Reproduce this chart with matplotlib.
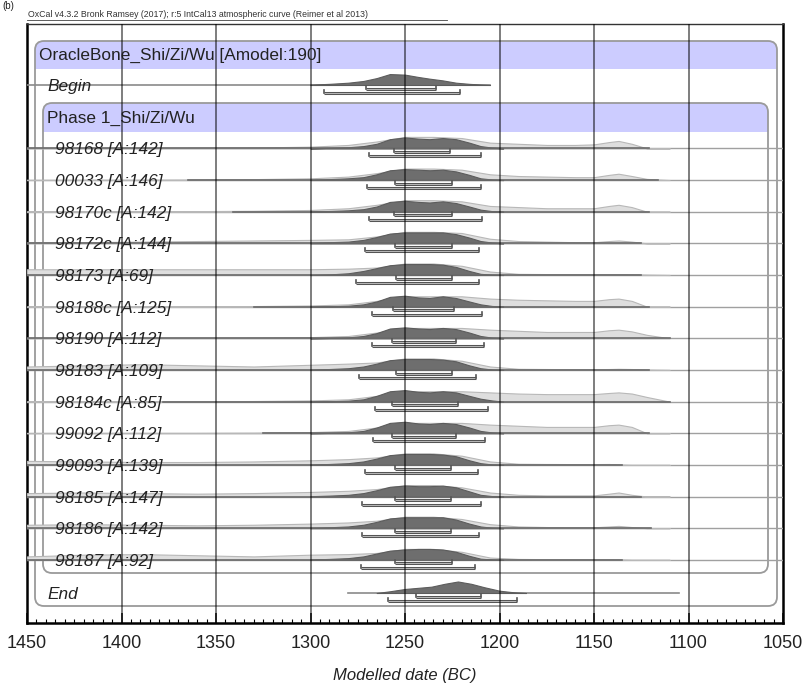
import matplotlib
matplotlib.use('Agg')
import matplotlib.pyplot as plt
from matplotlib.patches import FancyBboxPatch, Rectangle
from matplotlib.transforms import Affine2D
from matplotlib.ticker import MultipleLocator
from matplotlib.lines import Line2D

plt.rcParams['font.family'] = ['Liberation Sans', 'DejaVu Sans']

# ---- data (years BC, heights in px) ----
labels = ['98168 [A:142]', '00033 [A:146]', '98170c [A:142]', '98172c [A:144]',
          '98173 [A:69]', '98188c [A:125]', '98190 [A:112]', '98183 [A:109]',
          '98184c [A:85]', '99092 [A:112]', '99093 [A:139]', '98185 [A:147]',
          '98186 [A:142]', '98187 [A:92]']

range68 = [(1256, 1226), (1255.5, 1225), (1256, 1225), (1255.5, 1225),
           (1255, 1225), (1256.6, 1224), (1257, 1223), (1255, 1225),
           (1257, 1222), (1257, 1223), (1255.5, 1225.5), (1255.5, 1225.5),
           (1255.5, 1225.5), (1255.5, 1225)]
range95 = [(1269, 1210), (1270, 1210), (1269, 1209.5), (1271, 1211),
           (1276, 1211), (1267.4, 1209), (1267.4, 1208), (1274.3, 1212.4),
           (1266, 1206), (1267, 1207.5), (1271, 1211.5), (1272.5, 1210),
           (1272.5, 1211), (1273.5, 1213)]

# posterior (dark) heights on a common year grid
post_years = [1300, 1290, 1280, 1272, 1265, 1258, 1250, 1243, 1237, 1230, 1223, 1216, 1210, 1204, 1198]
post_h = [
    [0, 0.5, 1, 2, 4, 8, 9.5, 8.5, 8, 9, 8, 5, 2, 0.7, 0],
    [0.3, 0.8, 1.5, 2.5, 5, 8.5, 9.5, 9, 8.5, 9, 7.5, 4.5, 1.5, 0.5, 0],
    [0.3, 0.6, 1.2, 2.2, 4.5, 8.5, 9.5, 8.5, 8, 9, 7.5, 4.5, 1.8, 0.5, 0],
    [0.5, 1, 1.5, 3, 5.5, 8.5, 9.5, 9.5, 9.5, 9.5, 8, 5, 2, 0.7, 0],
    [0, 0.5, 1.5, 3.5, 6, 8.5, 9.5, 9.5, 9.5, 9, 7, 3.5, 1, 0.3, 0],
    [0, 0.3, 0.8, 2, 4.5, 8.5, 9.5, 8, 7.5, 9, 7.5, 4.5, 2, 0.6, 0],
    [0, 0.3, 0.8, 2, 4.5, 8.5, 9.5, 8.5, 8, 9, 8, 5, 2, 0.6, 0],
    [0.3, 0.8, 1.5, 3, 5.5, 8.5, 9.5, 9.5, 9.5, 9, 7.5, 4, 1.5, 0.4, 0],
    [0, 0.3, 0.8, 2, 5, 9, 10, 8.5, 8, 9, 8, 5, 2.5, 1, 0],
    [0, 0.3, 0.8, 2, 5, 9, 10, 8.5, 8, 9, 8, 5, 2, 0.7, 0],
    [0.3, 0.8, 1.5, 3, 5.5, 8.5, 9.5, 9.5, 9.5, 9, 7.5, 4, 1.5, 0.4, 0],
    [0.3, 0.8, 1.5, 3, 5.5, 8.5, 9.5, 9, 9, 9.5, 8, 4.5, 1.5, 0.4, 0],
    [0.3, 0.8, 1.5, 3, 5.5, 8.5, 9.5, 9.5, 9.5, 9.5, 7.5, 4, 1.5, 0.4, 0],
    [0.3, 0.8, 1.5, 3, 5.5, 8, 9, 9.5, 9.5, 9, 7, 3.5, 1, 0.3, 0],
]

# unmodelled likelihood (light) heights on a common year grid
prior_years = [1450, 1420, 1390, 1360, 1330, 1300, 1280, 1265, 1250, 1235, 1220,
               1205, 1190, 1175, 1160, 1150, 1142, 1137, 1130, 1122, 1110]
prior_h = [
    [0.3, 0.3, 0.3, 0.5, 0.8, 1.5, 3, 6, 10, 10, 9, 5, 4, 3, 3, 3.5, 5.5, 6.5, 4, 0, 0],
    [0.2, 0.3, 0.3, 0.5, 0.8, 1.5, 3, 6, 10, 10, 9, 5, 3.5, 3, 2.5, 2.5, 4.5, 5.5, 3.5, 1, 0],
    [0.3, 0.3, 0.3, 0.5, 0.8, 1.5, 3, 6, 10, 10, 9, 5, 4, 3, 3, 3, 5, 6, 4, 0, 0],
    [0.8, 1, 1.5, 2, 2.5, 3, 3.5, 6, 10, 10, 9, 4, 2, 1.5, 1, 1, 2, 2.5, 1.5, 0, 0],
    [5, 5, 5, 5, 5, 5, 5.5, 6.5, 10, 10, 8, 3, 1, 0.8, 0.7, 0.7, 0.8, 0.8, 0.6, 0.3, 0],
    [0.2, 0.3, 0.3, 0.3, 0.5, 1, 2, 5, 9, 9, 9, 7, 6, 5.5, 5, 5, 6.5, 7, 5, 0, 0],
    [0.2, 0.3, 0.3, 0.3, 0.5, 1, 2, 5, 9, 9, 9, 7.5, 6.5, 5.5, 5.5, 5.5, 7, 7.5, 6, 3, 0],
    [3, 4, 5, 4, 3, 4.5, 5.5, 6.5, 10, 10, 8, 3, 1, 0.8, 0.7, 0.7, 0.8, 1, 0.8, 0.3, 0],
    [0.2, 0.3, 0.3, 0.3, 0.5, 1, 2, 5, 9, 9, 9, 8, 7, 6.5, 6.5, 6.5, 7.5, 8, 7, 4, 0],
    [0.2, 0.3, 0.3, 0.3, 0.5, 1, 2, 5, 9, 9, 9, 7.5, 6.5, 5.5, 5.5, 5.5, 7, 7.5, 5.5, 0, 0],
    [3.5, 3, 2.5, 2.5, 3, 4, 5, 6.5, 10, 10, 8, 3, 1, 0.8, 0.7, 0.7, 0.8, 0.3, 0, 0, 0],
    [3, 3.5, 3, 2.5, 3, 4, 5, 6.5, 10, 10, 8, 3.5, 1.5, 1, 1, 1, 2.5, 3.5, 1.5, 0, 0],
    [3, 3.5, 3, 2.5, 3, 4, 5, 6.5, 10, 10, 8, 3.5, 1.5, 1, 0.8, 0.8, 1.5, 2, 1, 0, 0],
    [3, 4.5, 5, 4, 3, 4.5, 5, 6, 9.5, 9.5, 7, 2, 0.8, 0.6, 0.5, 0.5, 0.5, 0.3, 0, 0, 0],
]
line_start = [1450, 1365, 1341, 1450, 1450, 1330, 1450, 1450, 1378, 1325, 1450, 1450, 1450, 1450]
line_end = [1121, 1116, 1121, 1125, 1125, 1121, 1110, 1121, 1110, 1121, 1135, 1125, 1120, 1135]

begin_years = [1300, 1290, 1280, 1272, 1265, 1258, 1250, 1243, 1237, 1230, 1223, 1216, 1210, 1205]
begin_h = [0.3, 1, 2, 3.5, 6, 9.5, 9, 7, 5.5, 4, 2, 1, 0.4, 0]
begin_68, begin_95 = (1270.5, 1233.5), (1293, 1220.7)
begin_line = (1450, 1205)

end_years = [1265, 1258, 1250, 1243, 1236, 1229, 1222, 1215, 1208, 1200, 1193, 1186]
end_h = [0, 1.5, 3.5, 4.5, 5.5, 8, 10, 8, 5, 2, 0.7, 0]
end_68, end_95 = (1244, 1210), (1259, 1191)
end_line = (1280, 1105)

W, H = 805, 683
fig = plt.figure(figsize=(W / 100, H / 100), dpi=100)
ax = fig.add_axes([27 / W, 1 - 623 / H, (783 - 27) / W, (623 - 24) / H])
ax.set_xlim(1450, 1050)
ax.set_ylim(623, 24)
px = Affine2D().scale(1, -1).translate(0, H)   # top-left pixel coords

LAV = '#ccccff'
EDGE = '#9a9a9a'
HSCALE = 1.15


def group_box(x0, y0, x1, y1, head):
    box = FancyBboxPatch((x0, H - y1), x1 - x0, y1 - y0,
                         boxstyle='round,pad=0,rounding_size=9',
                         transform=Affine2D(), fc='none', ec=EDGE, lw=1.3, zorder=2)
    ax.add_patch(box)
    band = Rectangle((x0, H - head), x1 - x0, head - y0, transform=Affine2D(),
                     fc=LAV, ec='none', zorder=1)
    ax.add_patch(band)
    band.set_clip_path(box)


group_box(35, 41, 777, 606, 69)
group_box(43, 103, 768, 573, 132)

ax.text(39, 59.5, 'OracleBone_Shi/Zi/Wu [Amodel:190]', transform=px, fontsize=12.4,
        color='#222', va='baseline', zorder=8)
ax.text(47, 123, 'Phase 1_Shi/Zi/Wu', transform=px, fontsize=12.4,
        color='#222', va='baseline', zorder=8)

row0, dy = 148.4, 31.65


def draw_dist(base, yrs, h, fc, ec, z):
    ax.fill_between(yrs, [base] * len(yrs), [base - v * HSCALE for v in h],
                    fc=fc, ec=ec, lw=0.8, zorder=z)


def draw_ranges(base, r68, r95):
    for (a, b), off in ((r68, 3.6), (r95, 8.0)):
        y = base + off
        ax.plot([a, b], [y, y], color='#555', lw=2.2, solid_capstyle='butt', zorder=5)
        ax.plot([a, b], [y, y], color='#c8c8c8', lw=0.6, zorder=5)
        ax.plot([a, a], [y, y - 3], color='#555', lw=1.2, zorder=5)
        ax.plot([b, b], [y, y - 3], color='#555', lw=1.2, zorder=5)


for i, lab in enumerate(labels):
    base = row0 + i * dy
    ax.plot([1450, 1050], [base, base], color='#a0a0a0', lw=1.0, zorder=3)
    draw_dist(base, prior_years, prior_h[i], '#dedede', '#b8b8b8', 3.2)
    draw_dist(base, post_years, post_h[i], '#6e6e6e', '#5c5c5c', 3.4)
    ax.plot([line_start[i], line_end[i]], [base, base], color='#6a6a6a', lw=1.2, zorder=3.5)
    draw_ranges(base, range68[i], range95[i])
    ax.text(55, base + 6, lab, transform=px, fontsize=12.4, style='italic',
            color='#222', va='baseline', zorder=8)

# Begin boundary
yb = 85
ax.plot(begin_line, [yb, yb], color='#8a8a8a', lw=1.2, zorder=3)
draw_dist(yb, begin_years, begin_h, '#6e6e6e', '#5c5c5c', 3.4)
draw_ranges(yb, begin_68, begin_95)
ax.text(47, 91, 'Begin', transform=px, fontsize=12.4, style='italic',
        color='#222', va='baseline', zorder=8)

# End boundary
ye = 593
ax.plot(end_line, [ye, ye], color='#8a8a8a', lw=1.2, zorder=3)
draw_dist(ye, end_years, end_h, '#6e6e6e', '#5c5c5c', 3.4)
draw_ranges(ye, end_68, end_95)
ax.text(47, 599, 'End', transform=px, fontsize=12.4, style='italic',
        color='#222', va='baseline', zorder=8)

# grid
ax.vlines(range(1400, 1099, -50), 24, 623, colors='k', alpha=0.55, lw=1.3, zorder=6)

ax.set_xticks(range(1450, 1049, -50))
ax.xaxis.set_minor_locator(MultipleLocator(5))
ax.tick_params(axis='x', which='major', direction='in', length=7, width=1.2,
               labelsize=13, pad=9, colors='#222')
ax.tick_params(axis='x', which='minor', direction='in', length=3, width=0.8)
ax.set_yticks([])
for s in ('left', 'right', 'bottom'):
    ax.spines[s].set_linewidth(1.8)
ax.spines['top'].set_linewidth(1.0)
ax.spines['top'].set_color('#333')
ax.set_xlabel('Modelled date (BC)', fontsize=12, style='italic', labelpad=11, color='#222')

fig.text(28 / W, 1 - 17 / H, 'OxCal v4.3.2 Bronk Ramsey (2017); r:5 IntCal13 atmospheric curve (Reimer et al 2013)',
         fontsize=6.3, color='#333', va='baseline')
fig.add_artist(Line2D([27 / W, 447 / W], [1 - 19.5 / H, 1 - 19.5 / H], color='#444', lw=0.6))
fig.text(2 / W, 1 - 9 / H, '(b)', fontsize=7, color='#222', va='baseline')

fig.savefig('out.png', dpi=100)
